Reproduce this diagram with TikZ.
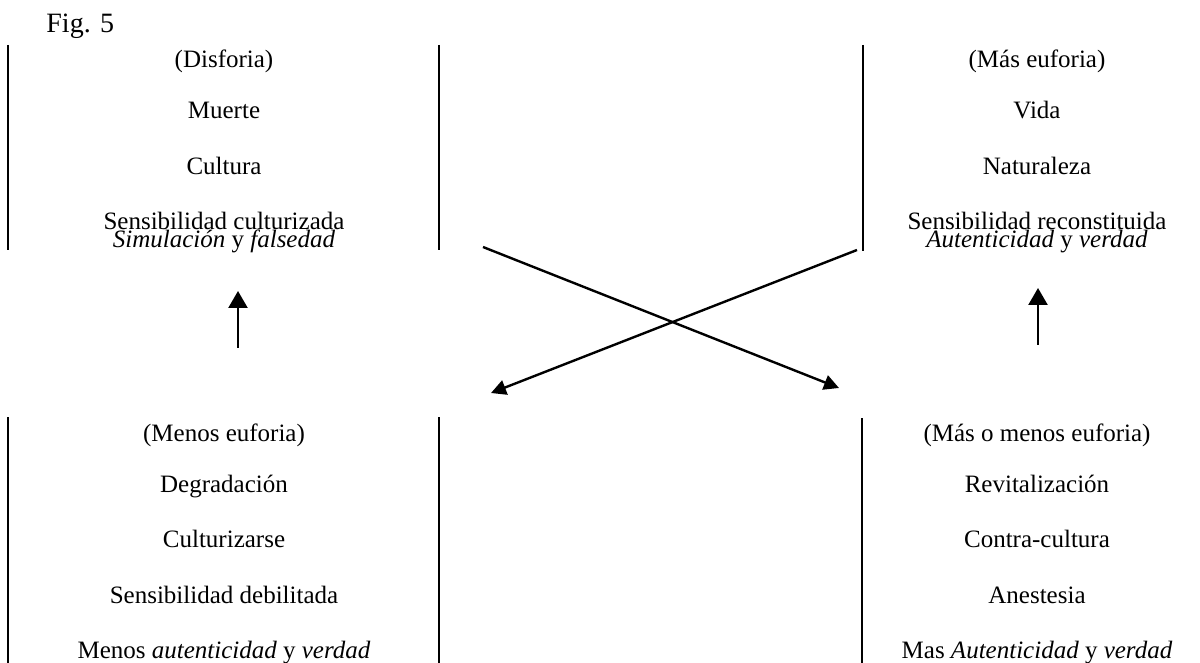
\documentclass[tikz,border=0pt]{standalone}
\usepackage{fontspec}
\setmainfont{Liberation Serif}
\usetikzlibrary{arrows.meta}
\begin{document}
\begin{tikzpicture}[x=0.5pt,y=-0.5pt,
  txt/.style={anchor=base, inner sep=0pt, font=\fontsize{12.5}{15}\selectfont},
  boxline/.style={line width=0.65pt},
  uparr/.style={line width=1.2pt, -{Triangle[length=8.5pt,width=9.5pt]}},
  crossarr/.style={line width=1.2pt, -{Triangle[length=7.5pt,width=7.5pt]}}]
\useasboundingbox (0,0) rectangle (1200,663);
% Title
\node[txt, anchor=base west, font=\fontsize{14}{16}\selectfont] (fig) at (46,33) {Fig. 5};
% box lines
\coordinate (a1) at (8,45);   \coordinate (a2) at (8,250);
\coordinate (b1) at (439,45); \coordinate (b2) at (439,250);
\coordinate (c1) at (863,45); \coordinate (c2) at (863,251);
\coordinate (d1) at (8,417);   \coordinate (d2) at (8,663);
\coordinate (e1) at (439,417); \coordinate (e2) at (439,663);
\coordinate (f1) at (862,418); \coordinate (f2) at (862,663);
\foreach \p/\q in {a1/a2,b1/b2,c1/c2,d1/d2,e1/e2,f1/f2} \draw[boxline] (\p) -- (\q);
% top left
\node[txt] (tl1) at (224,68) {(Disforia)};
\node[txt] (tl2) at (224,119) {Muerte};
\node[txt] (tl3) at (224,175) {Cultura};
\node[txt] (tl4) at (224,230) {Sensibilidad culturizada};
\node[txt] (tl5) at (224,248) {\textit{Simulación} y \textit{falsedad}};
% top right
\node[txt] (tr1) at (1037,68) {(Más euforia)};
\node[txt] (tr2) at (1037,119) {Vida};
\node[txt] (tr3) at (1037,175) {Naturaleza};
\node[txt] (tr4) at (1037,230) {Sensibilidad reconstituida};
\node[txt] (tr5) at (1037,248) {\textit{Autenticidad} y \textit{verdad}};
% bottom left
\node[txt] (bl1) at (224,441) {(Menos euforia)};
\node[txt] (bl2) at (224,492) {Degradación};
\node[txt] (bl3) at (224,547) {Culturizarse};
\node[txt] (bl4) at (224,603) {Sensibilidad debilitada};
\node[txt] (bl5) at (224,658) {Menos \textit{autenticidad} y \textit{verdad}};
% bottom right
\node[txt] (br1) at (1037,441) {(Más o menos euforia)};
\node[txt] (br2) at (1037,492) {Revitalización};
\node[txt] (br3) at (1037,547) {Contra-cultura};
\node[txt] (br4) at (1037,603) {Anestesia};
\node[txt] (br5) at (1037,658) {Mas \textit{Autenticidad} y \textit{verdad}};
% up arrows
\coordinate (ul0) at (238,348); \coordinate (ul1) at (238,291);
\coordinate (ur0) at (1038,345); \coordinate (ur1) at (1038,288);
\draw[uparr] (ul0) -- (ul1);
\draw[uparr] (ur0) -- (ur1);
% cross arrows
\coordinate (x1s) at (483,247); \coordinate (x1e) at (839,388);
\coordinate (x2s) at (857,250); \coordinate (x2e) at (491,393);
\draw[crossarr] (x1s) -- (x1e);
\draw[crossarr] (x2s) -- (x2e);
\end{tikzpicture}
\end{document}
